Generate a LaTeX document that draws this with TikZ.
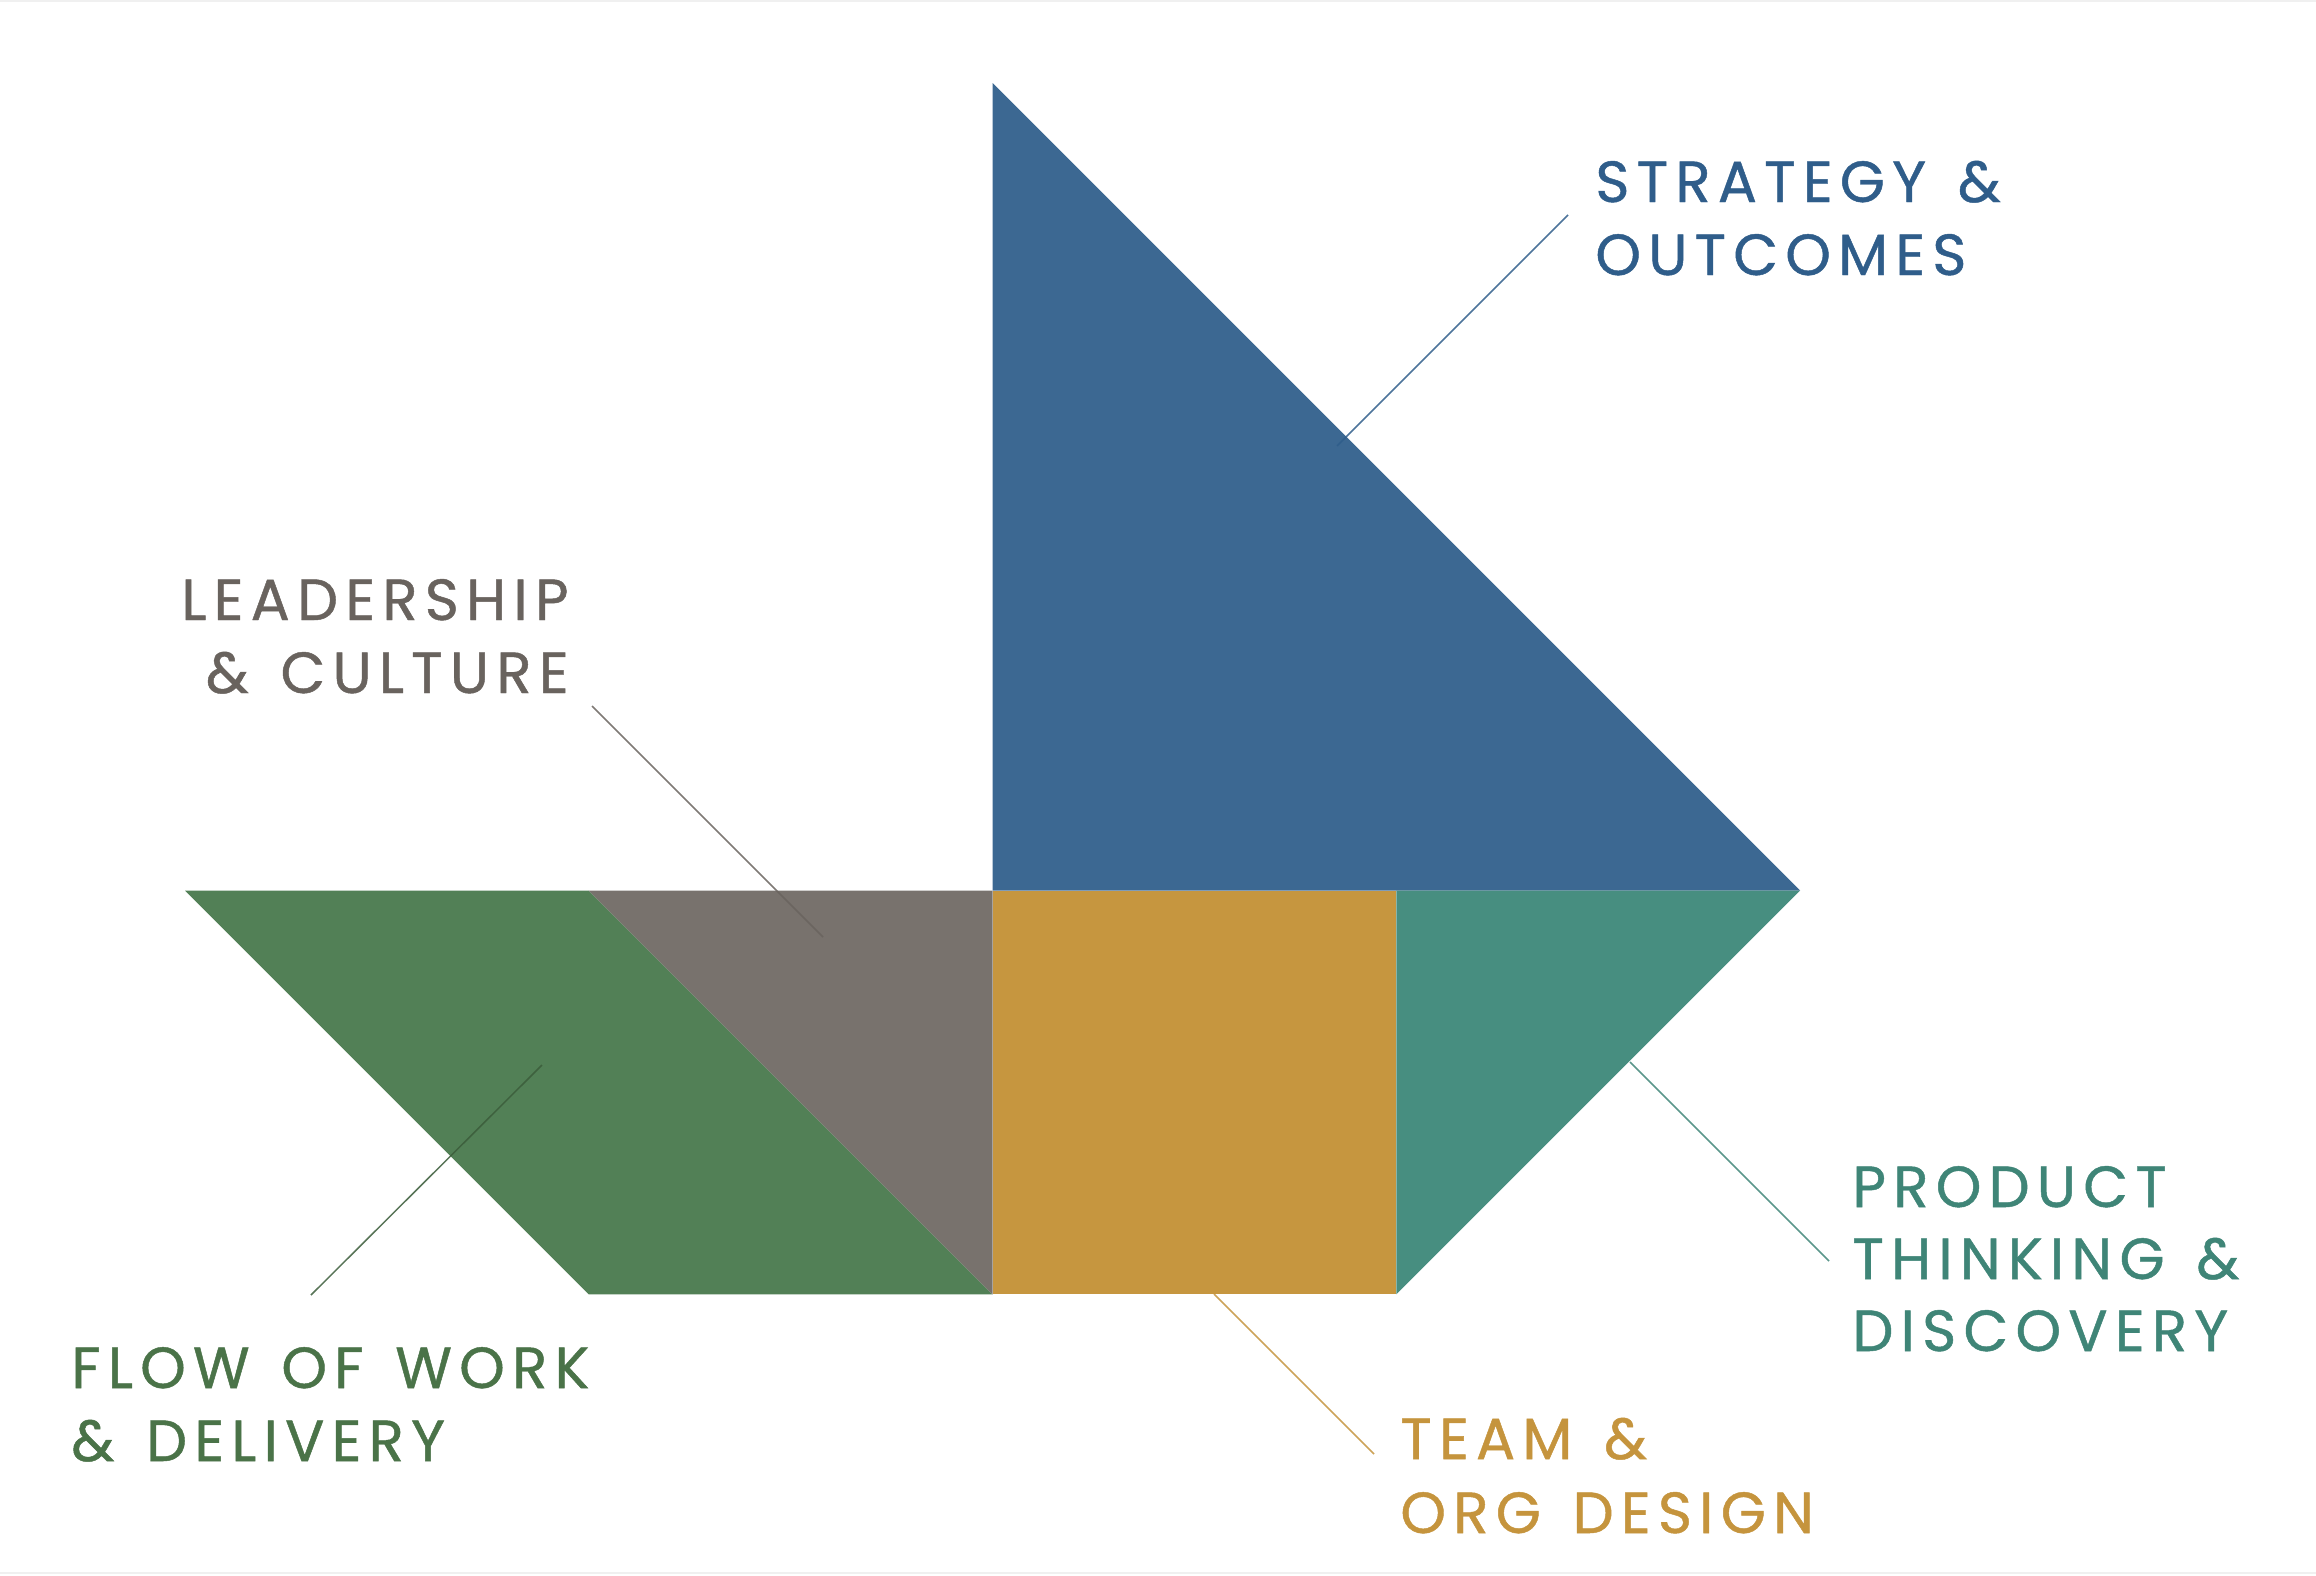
\documentclass[tikz,border=0pt]{standalone}
\usepackage{fontspec}
\newfontfamily\labfont[LetterSpace=12.5, WordSpace=1.4, FakeBold=0.8]{Poppins}
\definecolor{sailblue}{HTML}{3C6892}
\definecolor{hullgray}{HTML}{78726D}
\definecolor{hullgreen}{HTML}{528056}
\definecolor{hullgold}{HTML}{C6963F}
\definecolor{hullteal}{HTML}{478E80}
\definecolor{txtblue}{HTML}{2F5D8A}
\definecolor{txtgray}{HTML}{69635E}
\definecolor{txtgreen}{HTML}{4A7348}
\definecolor{txtgold}{HTML}{C5943D}
\definecolor{txtteal}{HTML}{3F8577}
\tikzset{
  lab/.style={inner sep=0pt, font=\labfont\fontsize{29}{35}\selectfont},
  leader/.style={line width=0.75pt, draw opacity=0.85},
  piece/.style={draw=none}
}
\begin{document}
\begin{tikzpicture}[x=0.5pt,y=-0.5pt]
\useasboundingbox (0,0) rectangle (2316,1575);
\fill[white] (0,0) rectangle (2316,1575);
\draw[gray!12, line width=1pt] (0,1) -- (2316,1);
\draw[gray!12, line width=1pt] (0,1573) -- (2316,1573);
% key points
\coordinate (apex) at (992.5,83);
\coordinate (mast) at (992.5,890.5);
\coordinate (bow) at (1800,890.5);
\coordinate (stern) at (185,890.5);
\coordinate (gtop) at (588.75,890.5);
\coordinate (gbot) at (588.75,1294.25);
\coordinate (keel) at (992.5,1294.25);
\coordinate (sqtop) at (1396.25,890.5);
\coordinate (sqbot) at (1396.25,1294.25);
% pieces
\fill[sailblue] (apex) -- (mast) -- (bow) -- cycle;
\fill[hullgreen] (stern) -- (gtop) -- (keel) -- (gbot) -- cycle;
\fill[hullgray] (gtop) -- (mast) -- (keel) -- cycle;
\fill[hullgold] (mast) -- (sqtop) -- (sqbot) -- (keel) -- cycle;
\fill[hullteal] (sqtop) -- (bow) -- (sqbot) -- cycle;
% labels
\node[lab, text=txtblue, anchor=base west] (s1) at (1595,202) {STRATEGY \&};
\node[lab, text=txtblue, anchor=base west] (s2) at (1595,275) {OUTCOMES};
\node[lab, text=txtgray, anchor=base east] (l1) at (569,620) {LEADERSHIP};
\node[lab, text=txtgray, anchor=base east] (l2) at (569,693) {\& CULTURE};
\node[lab, text=txtgreen, anchor=base west] (f1) at (71,1388) {FLOW OF WORK};
\node[lab, text=txtgreen, anchor=base west] (f2) at (71,1461) {\& DELIVERY};
\node[lab, text=txtgold, anchor=base west] (t1) at (1400,1459) {TEAM \&};
\node[lab, text=txtgold, anchor=base west] (t2) at (1400,1533) {ORG DESIGN};
\node[lab, text=txtteal, anchor=base west] (p1) at (1852,1207) {PRODUCT};
\node[lab, text=txtteal, anchor=base west] (p2) at (1852,1279) {THINKING \&};
\node[lab, text=txtteal, anchor=base west] (p3) at (1852,1351) {DISCOVERY};
% leader ends
\coordinate (sA) at (1568,215);
\coordinate (sB) at (1337,446);
\coordinate (lA) at (592,706);
\coordinate (lB) at (823,937);
\coordinate (fA) at (311,1295);
\coordinate (fB) at (542,1065);
\coordinate (tA) at (1214,1294);
\coordinate (tB) at (1374,1454);
\coordinate (pA) at (1630,1062);
\coordinate (pB) at (1829,1261);
\draw[leader, draw=txtblue] (sA) -- (sB);
\draw[leader, draw=txtgray] (lA) -- (lB);
\draw[leader, draw=txtgreen!80!black] (fA) -- (fB);
\draw[leader, draw=txtgold] (tA) -- (tB);
\draw[leader, draw=txtteal] (pA) -- (pB);
\end{tikzpicture}
\end{document}
